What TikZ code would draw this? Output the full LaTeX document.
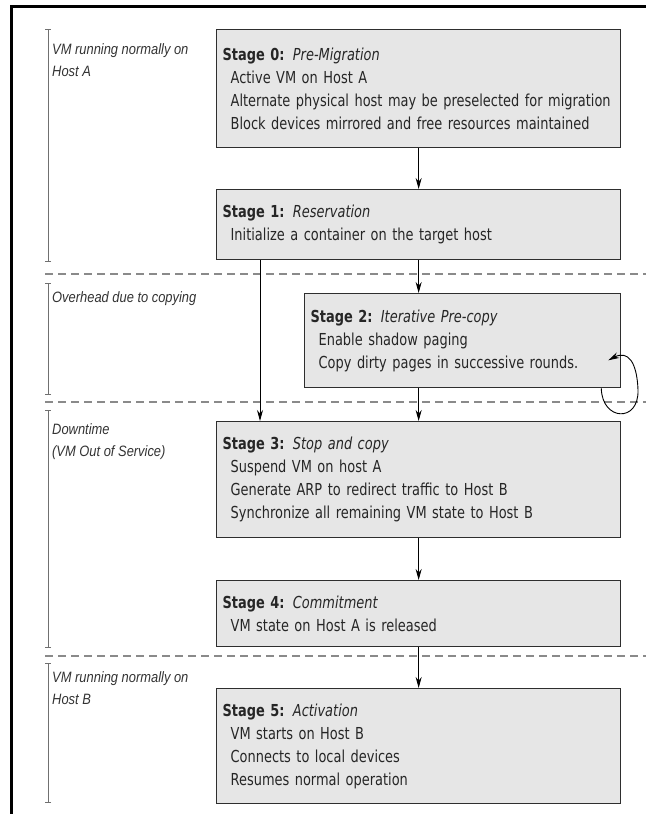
\documentclass[tikz,border=0pt]{standalone}
\usepackage{fontspec}
\setmainfont[FakeStretch=0.785]{DejaVu Sans}
\newfontfamily\lblfont[FakeStretch=0.86]{Liberation Sans}
\usetikzlibrary{arrows.meta}
\definecolor{boxfill}{HTML}{E6E6E6}
\definecolor{boxborder}{HTML}{2E2E2E}
\definecolor{bodytext}{HTML}{262626}
\definecolor{lbltext}{HTML}{333333}
\definecolor{dashgray}{HTML}{8A8A8A}
\definecolor{brackgray}{HTML}{707070}
\tikzset{
  stagebox/.style={draw=boxborder, line width=1.3pt, fill=boxfill, anchor=north west,
    align=left, inner xsep=6pt, inner ysep=0pt, text=bodytext,
    font=\fontsize{16.5}{23}\selectfont},
  phaselabel/.style={anchor=north west, align=left, inner sep=0pt, text=lbltext,
    font=\lblfont\itshape\fontsize{15}{22}\selectfont},
  arr/.style={draw=black, line width=0.9pt, -{Stealth[length=11pt,width=6pt]}},
  sep/.style={draw=dashgray, line width=1.3pt, dash pattern=on 8pt off 5pt},
  brack/.style={draw=brackgray, line width=0.8pt, {Bar[width=6pt]}-{Bar[width=6pt]}},
  frame/.style={draw=black, line width=3pt}
}
\newcommand{\ind}{\hspace*{8pt}}
\begin{document}
\begin{tikzpicture}[x=1pt,y=-1pt]
\useasboundingbox (0,0) rectangle (646,814);
\fill[white] (0,0) rectangle (646,814);
% frame
\coordinate (fbl) at (11,814);
\coordinate (ftl) at (11,6);
\coordinate (ftr) at (646,6);
\draw[frame] (fbl) -- (ftl) -- (ftr);

% separators
\coordinate (d1a) at (45,274); \coordinate (d1b) at (646,274);
\coordinate (d2a) at (45,402); \coordinate (d2b) at (646,402);
\coordinate (d3a) at (45,656); \coordinate (d3b) at (646,656);
\draw[sep] (d1a) -- (d1b);
\draw[sep] (d2a) -- (d2b);
\draw[sep] (d3a) -- (d3b);

% phase brackets
\coordinate (b1t) at (48,29);  \coordinate (b1b) at (48,262);
\coordinate (b2t) at (48,283); \coordinate (b2b) at (48,395);
\coordinate (b3t) at (48,410); \coordinate (b3b) at (48,648);
\coordinate (b4t) at (48,663); \coordinate (b4b) at (48,803);
\draw[brack] (b1t) -- (b1b);
\draw[brack] (b2t) -- (b2b);
\draw[brack] (b3t) -- (b3b);
\draw[brack] (b4t) -- (b4b);

% phase labels
\node[phaselabel] (l1) at (52,43) {VM running normally on\\Host A};
\node[phaselabel] (l2) at (52,291) {Overhead due to copying};
\node[phaselabel] (l3) at (52,423) {Downtime\\(VM Out of Service)};
\node[phaselabel] (l4) at (52,671) {VM running normally on\\Host B};

% stage boxes
\node[stagebox, text width=392pt, minimum height=118pt] (s0) at (216,29)
 {\textbf{Stage 0:} \textit{Pre-Migration}\\
  \ind Active VM on Host A\\
  \ind Alternate physical host may be preselected for migration\\
  \ind Block devices mirrored and free resources maintained};
\node[stagebox, text width=392pt, minimum height=70pt] (s1) at (216,189)
 {\textbf{Stage 1:} \textit{Reservation}\\
  \ind Initialize a container on the target host};
\node[stagebox, text width=304pt, minimum height=94pt] (s2) at (304,293)
 {\textbf{Stage 2:} \textit{Iterative Pre-copy}\\
  \ind Enable shadow paging\\
  \ind Copy dirty pages in successive rounds.};
\node[stagebox, text width=392pt, minimum height=116pt] (s3) at (216,421)
 {\textbf{Stage 3:} \textit{Stop and copy}\\
  \ind Suspend VM on host A\\
  \ind Generate ARP to redirect traffic to Host B\\
  \ind Synchronize all remaining VM state to Host B};
\node[stagebox, text width=392pt, minimum height=66pt] (s4) at (216,580)
 {\textbf{Stage 4:} \textit{Commitment}\\
  \ind VM state on Host A is released};
\node[stagebox, text width=392pt, minimum height=115pt] (s5) at (216,688)
 {\textbf{Stage 5:} \textit{Activation}\\
  \ind VM starts on Host B\\
  \ind Connects to local devices\\
  \ind Resumes normal operation};

% connectors
\coordinate (lx) at (260,0);
\draw[arr] (s0.south) -- (s1.north);
\draw[arr] (s1.south) -- (s2.north -| s1.south);
\draw[arr] (s1.south -| lx) -- (s3.north -| lx);
\draw[arr] (s2.south -| s1.south) -- (s3.north);
\draw[arr] (s3.south) -- (s4.north);
\draw[arr] (s4.south) -- (s5.north);
\coordinate (ls) at ([xshift=-20pt]s2.south east);
\coordinate (le) at ([xshift=-13pt,yshift=28pt]s2.south east);
\draw[arr] (ls) .. controls (602,421) and (639,423) .. (638,390)
  .. controls (637,362) and (628,350) .. (le);
\end{tikzpicture}
\end{document}
